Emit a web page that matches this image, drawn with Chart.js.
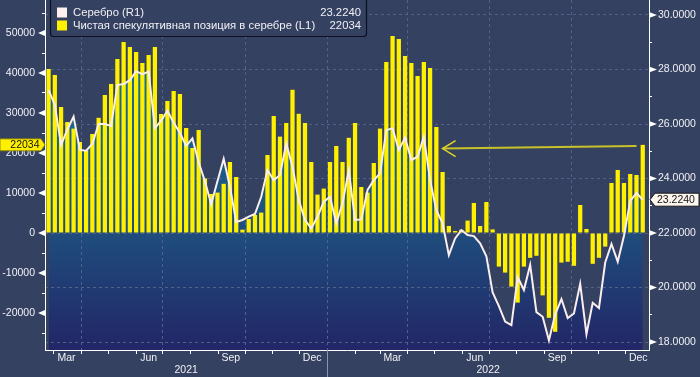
<!DOCTYPE html>
<html>
<head>
<meta charset="utf-8">
<script src="https://cdn.jsdelivr.net/npm/chart.js@4.4.0/dist/chart.umd.min.js"></script>
<style>
    html, body { margin: 0; padding: 0; background: #354160; }
    canvas { display: block; }
</style>
</head>
<body>
<canvas id="silverChart" width="700" height="377"></canvas>
<script>
// weekly CFTC reports, first one on Tuesday 2021-02-23
const firstWeek = "2021-02-23";

// net speculative position in silver (contracts), left axis
const positions = [
    41000, 39500, 31500, 27750, 26100, 22750, 20650, 24750, 28800, 34500,
    37250, 43500, 47750, 46500, 45250, 42500, 44500, 46500, 29750, 33000,
    35500, 34750, 26250, 21250, 25750, 13650, 9750, 10100, 12300, 17750,
    14000, 830, 3500, 4500, 5100, 19500, 29250, 24100, 27500, 35800,
    29800, 27500, 17750, 9600, 11100, 17750, 21750, 17750, 23800, 27500,
    11500, 10100, 17500, 26100, 42750, 49250, 48500, 44250, 42500, 39250,
    42750, 41250, 26500, 15250, 1750, 500, 800, 3100, 7500, 1750,
    7750, 900, -8400, -9900, -13400, -17400, -8400, -6200, -5700, -15600,
    -21200, -24700, -7400, -7200, -8200, 7000, 1000, -7700, -6200, -3400,
    12500, 15750, 12500, 14750, 14500, 22034
];

// silver price (USD/oz), right axis
const silver = [
    27.25, 26.70, 25.23, 25.80, 26.27, 25.05, 25.02, 25.27, 26.00, 26.00,
    25.93, 27.43, 27.47, 27.61, 27.94, 27.83, 27.92, 25.85, 26.12, 26.49,
    26.05, 25.68, 25.20, 25.47, 24.60, 23.90, 23.06, 23.90, 24.72, 23.70,
    22.41, 22.48, 22.60, 22.70, 23.33, 24.31, 23.94, 24.13, 25.29, 24.43,
    23.21, 22.48, 22.17, 22.60, 23.15, 23.33, 22.36, 23.09, 24.31, 22.48,
    22.50, 23.58, 23.94, 24.19, 25.78, 25.84, 25.05, 25.50, 24.68, 24.80,
    25.53, 23.94, 22.84, 22.36, 21.19, 21.80, 22.11, 21.93, 21.89, 21.62,
    21.15, 19.82, 19.32, 18.75, 18.62, 20.38, 19.91, 20.83, 19.10, 18.93,
    18.06, 19.02, 19.58, 18.88, 19.05, 20.14, 18.29, 19.44, 19.25, 20.92,
    21.60, 20.95, 21.90, 23.18, 23.47, 23.224
];

const seriesNames = ["Серебро (R1)", "Чистая спекулятивная позиция в серебре (L1)"];

// axis ticks and labels
const axisStart = "2021-02-19";
const axisEnd = "2022-12-27";
const monthLabels = ["Mar", "Jun", "Sep", "Dec", "Mar", "Jun", "Sep", "Dec"];
const monthLabelDates = ["2021-03-15", "2021-06-15", "2021-09-15", "2021-12-15",
                         "2022-03-15", "2022-06-15", "2022-09-15", "2022-12-15"];
const yearLabels = ["2021", "2022"];
const yearBreak = "2022-01-01";
const leftTicks = [-25000, -20000, -15000, -10000, -5000, 0, 5000, 10000, 15000,
                   20000, 25000, 30000, 35000, 40000, 45000, 50000, 55000];
const rightTicks = [18, 19, 20, 21, 22, 23, 24, 25, 26, 27, 28, 29, 30];

// arrow annotation (date, left-axis value)
const arrowFrom = ["2022-12-13", 21750];
const arrowTo = ["2022-05-10", 21100];

/* styles */
const BG = "#354160";
const TEXT = "#f0f1f6";
const GRID = "#50618a";
const YELLOW = "#fff000";
const FONT = "'Liberation Sans', Arial, sans-serif";
const CLEAR = "rgba(0,0,0,0)";

function dayOf(iso) {
    const [y, m, d] = iso.split("-").map(Number);
    return (Date.UTC(y, m - 1, d) - Date.UTC(2021, 0, 1)) / 86400000;
}

const weekX = positions.map((_, i) => dayOf(firstWeek) + 7 * i);

// month starts inside the visible range
const monthStarts = [];
for (let y = 2021; y <= 2022; y++) {
    for (let m = 0; m < 12; m++) {
        const d = (Date.UTC(y, m, 1) - Date.UTC(2021, 0, 1)) / 86400000;
        if (d >= dayOf(axisStart) && d <= dayOf(axisEnd)) monthStarts.push({ value: d, quarter: m % 3 === 0 });
    }
}
const monthStartSet = new Set(monthStarts.map(t => t.value));
const quarterSet = new Set(monthStarts.filter(t => t.quarter).map(t => t.value));
const labelByDay = {};
monthLabelDates.forEach((d, i) => { labelByDay[dayOf(d)] = monthLabels[i]; });

function fillGradient(context) {
    const area = context.chart.chartArea;
    if (!area) return CLEAR;
    const g = context.chart.ctx.createLinearGradient(0, area.top, 0, area.bottom);
    g.addColorStop(0, "#157f9e");
    g.addColorStop(0.29, "#1a6a90");
    g.addColorStop(0.67, "#1f4c7d");
    g.addColorStop(1, "#222666");
    return g;
}

const decorations = {
    id: "decorations",
    afterDatasetsDraw(chart) {
        const c = chart.ctx;
        const xs = chart.scales.x;
        const yl = chart.scales.y;
        const yr = chart.scales.y1;
        const area = chart.chartArea;

        // arrow annotation
        const x1 = xs.getPixelForValue(dayOf(arrowFrom[0]));
        const y1 = yl.getPixelForValue(arrowFrom[1]);
        const x2 = xs.getPixelForValue(dayOf(arrowTo[0]));
        const y2 = yl.getPixelForValue(arrowTo[1]);
        c.save();
        c.strokeStyle = "#c9c12a";
        c.lineWidth = 2;
        c.beginPath();
        c.moveTo(x1, y1);
        c.lineTo(x2, y2);
        c.stroke();
        c.lineWidth = 1.5;
        c.strokeStyle = "#e0d820";
        c.beginPath();
        c.moveTo(x2 + 13, y2 - 8);
        c.lineTo(x2, y2);
        c.lineTo(x2 + 13, y2 + 8);
        c.stroke();
        c.restore();

        // tick pointers
        c.save();
        c.fillStyle = "#ffffff";
        leftTicks.filter(v => v % 10000 === 0).forEach(v => {
            const py = yl.getPixelForValue(v);
            c.beginPath();
            c.moveTo(area.left - 7, py);
            c.lineTo(area.left, py - 3);
            c.lineTo(area.left, py + 3);
            c.closePath();
            c.fill();
        });
        rightTicks.filter(v => v % 2 === 0).forEach(v => {
            const py = yr.getPixelForValue(v);
            c.beginPath();
            c.moveTo(area.right + 8, py);
            c.lineTo(area.right, py - 3);
            c.lineTo(area.right, py + 3);
            c.closePath();
            c.fill();
        });

        // year separator
        const xb = Math.round(xs.getPixelForValue(dayOf(yearBreak))) + 0.5;
        c.strokeStyle = "#8d95aa";
        c.lineWidth = 1;
        c.beginPath();
        c.moveTo(xb, area.bottom);
        c.lineTo(xb, chart.height);
        c.stroke();
        c.restore();
    },
    afterDraw(chart) {
        const c = chart.ctx;
        const yl = chart.scales.y;
        const yr = chart.scales.y1;
        const area = chart.chartArea;
        const lastPos = positions[positions.length - 1];
        const lastSilver = silver[silver.length - 1];

        c.save();
        c.font = "10.5px " + FONT;
        c.textBaseline = "middle";

        // left value badge
        let py = yl.getPixelForValue(lastPos);
        c.beginPath();
        c.moveTo(0, py - 6);
        c.lineTo(area.left - 4, py - 6);
        c.lineTo(area.left, py);
        c.lineTo(area.left - 4, py + 6);
        c.lineTo(0, py + 6);
        c.closePath();
        c.fillStyle = YELLOW;
        c.fill();
        c.strokeStyle = "#7a7400";
        c.lineWidth = 0.8;
        c.stroke();
        c.fillStyle = "#111111";
        c.textAlign = "right";
        c.fillText(String(lastPos), 39.5, py + 0.5);

        // right value badge
        py = yr.getPixelForValue(lastSilver);
        c.beginPath();
        c.moveTo(area.right + 1, py);
        c.lineTo(area.right + 6, py - 6.5);
        c.lineTo(chart.width - 1, py - 6.5);
        c.lineTo(chart.width - 1, py + 6.5);
        c.lineTo(area.right + 6, py + 6.5);
        c.closePath();
        c.fillStyle = "#fdf6ee";
        c.fill();
        c.strokeStyle = "#1a1a1a";
        c.lineWidth = 1;
        c.stroke();
        c.fillStyle = "#111111";
        c.textAlign = "left";
        c.fillText(lastSilver.toFixed(4), area.right + 8, py + 0.5);

        // legend
        c.beginPath();
        c.roundRect(50.5, -4, 316, 40.5, 3);
        c.fillStyle = BG;
        c.fill();
        c.strokeStyle = "#0c1120";
        c.lineWidth = 1.2;
        c.stroke();
        const rows = [
            { color: "#fdf0ee", name: seriesNames[0], value: lastSilver.toFixed(4), y: 12.5 },
            { color: YELLOW, name: seriesNames[1], value: String(lastPos), y: 25.5 }
        ];
        c.font = "11.3px " + FONT;
        rows.forEach(r => {
            c.fillStyle = r.color;
            c.fillRect(57, r.y - 5, 10, 10);
            c.fillStyle = TEXT;
            c.textAlign = "left";
            c.fillText(r.name, 73, r.y);
            c.textAlign = "right";
            c.fillText(r.value, 361, r.y);
        });
        c.restore();
    }
};

const ctx = document.getElementById("silverChart");

new Chart(ctx, {
    type: "bar",
    data: {
        datasets: [{
            type: "line",
            label: seriesNames[0],
            data: silver.map((v, i) => ({ x: weekX[i], y: v })),
            yAxisID: "y1",
            borderColor: "#fbeeee",
            borderWidth: 2,
            pointRadius: 0,
            tension: 0,
            fill: "start",
            backgroundColor: fillGradient,
            order: 0
        }, {
            type: "bar",
            label: seriesNames[1],
            data: positions.map((v, i) => ({ x: weekX[i], y: v })),
            yAxisID: "y",
            backgroundColor: YELLOW,
            borderWidth: 0,
            barPercentage: 0.68,
            categoryPercentage: 1,
            order: 1
        }]
    },
    options: {
        responsive: false,
        animation: false,
        layout: { padding: 0 },
        plugins: {
            legend: { display: false },
            tooltip: { enabled: false },
            filler: { drawTime: "beforeDraw" }
        },
        scales: {
            x: {
                type: "linear",
                position: "bottom",
                weight: 0,
                min: dayOf(axisStart),
                max: dayOf(axisEnd),
                offset: false,
                afterBuildTicks: (scale) => {
                    const t = monthStarts.map(m => ({ value: m.value }))
                        .concat(monthLabelDates.map(d => ({ value: dayOf(d) })));
                    t.sort((a, b) => a.value - b.value);
                    scale.ticks = t;
                },
                afterFit: (scale) => {
                    scale.height = 14;
                    scale.paddingLeft = 0;
                    scale.paddingRight = 0;
                },
                grid: {
                    offset: false,
                    color: (c) => (c.tick && quarterSet.has(c.tick.value)) ? GRID : CLEAR,
                    tickColor: (c) => (c.tick && monthStartSet.has(c.tick.value)) ? "#ffffff" : CLEAR,
                    tickLength: 4
                },
                border: { color: "#ffffff", width: 1, dash: [3, 3] },
                ticks: {
                    autoSkip: false,
                    maxRotation: 0,
                    padding: -2,
                    color: TEXT,
                    font: { family: FONT, size: 10.5 },
                    callback: (v) => labelByDay[v] || ""
                }
            },
            x2: {
                type: "linear",
                position: "bottom",
                weight: 1,
                min: dayOf(axisStart),
                max: dayOf(axisEnd),
                offset: false,
                afterBuildTicks: (scale) => {
                    const b = dayOf(yearBreak);
                    scale.ticks = [{ value: (scale.min + b) / 2 }, { value: (b + scale.max) / 2 }];
                },
                afterFit: (scale) => {
                    scale.height = 13;
                    scale.paddingLeft = 0;
                    scale.paddingRight = 0;
                },
                grid: { display: false, drawTicks: false, offset: false },
                border: { display: false },
                ticks: {
                    autoSkip: false,
                    maxRotation: 0,
                    padding: 0,
                    color: TEXT,
                    font: { family: FONT, size: 10.5 },
                    callback: (v, i) => yearLabels[i]
                }
            },
            y: {
                position: "left",
                min: -29250,
                max: 58250,
                afterBuildTicks: (scale) => { scale.ticks = leftTicks.map(v => ({ value: v })); },
                afterFit: (scale) => {
                    scale.width = 45;
                    scale.paddingTop = 0;
                    scale.paddingBottom = 0;
                },
                grid: { drawOnChartArea: false, tickLength: 3, tickColor: "#ffffff" },
                border: { color: "#ffffff", width: 1 },
                ticks: {
                    padding: 7,
                    color: TEXT,
                    font: { family: FONT, size: 10.5 },
                    callback: (v) => v % 10000 === 0 ? String(v) : ""
                }
            },
            y1: {
                position: "right",
                min: 17.71,
                max: 30.55,
                afterBuildTicks: (scale) => { scale.ticks = rightTicks.map(v => ({ value: v })); },
                afterFit: (scale) => {
                    scale.width = 51;
                    scale.paddingTop = 0;
                    scale.paddingBottom = 0;
                },
                grid: {
                    color: (c) => (c.tick && c.tick.value % 2 === 0) ? GRID : CLEAR,
                    tickLength: 3,
                    tickColor: "#ffffff"
                },
                border: { color: "#ffffff", width: 1, dash: [3, 3] },
                ticks: {
                    padding: 6,
                    color: TEXT,
                    font: { family: FONT, size: 10.5 },
                    callback: (v) => v % 2 === 0 ? v.toFixed(4) : ""
                }
            }
        }
    },
    plugins: [decorations]
});
</script>
</body>
</html>
